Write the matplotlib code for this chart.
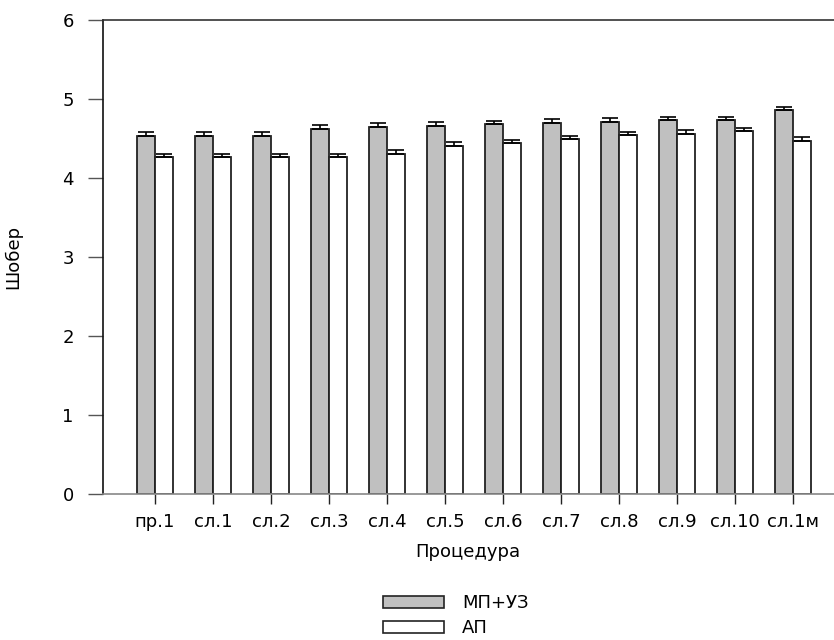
import matplotlib.pyplot as plt
import numpy as np
from matplotlib.patches import Patch

plt.rcParams['font.family'] = ['DejaVu Sans']

# data
procedures = ['пр.1', 'сл.1', 'сл.2', 'сл.3', 'сл.4', 'сл.5', 'сл.6',
              'сл.7', 'сл.8', 'сл.9', 'сл.10', 'сл.1м']
mp_uz = [4.53, 4.53, 4.53, 4.62, 4.65, 4.66, 4.68, 4.70, 4.71, 4.73, 4.73, 4.86]
mp_uz_err = [0.05, 0.05, 0.05, 0.05, 0.05, 0.05, 0.045, 0.045, 0.045, 0.045, 0.045, 0.045]
ap = [4.26, 4.26, 4.26, 4.26, 4.31, 4.40, 4.44, 4.49, 4.54, 4.56, 4.59, 4.47]
ap_err = [0.045, 0.045, 0.045, 0.045, 0.045, 0.05, 0.045, 0.045, 0.045, 0.045, 0.04, 0.045]
series_labels = ['МП+УЗ', 'АП']

W, H = 834, 640
fs = 13
fig = plt.figure(figsize=(W / 100, H / 100), dpi=100)
ax = fig.add_axes([103 / W, (H - 494) / H, (W - 103) / W, (494 - 20) / H])

x = np.arange(len(procedures))
bw = 0.31
ax.bar(x - bw / 2, mp_uz, bw, color='#c0c0c0', edgecolor='#222222', linewidth=1.3, zorder=2)
ax.bar(x + bw / 2, ap, bw, color='white', edgecolor='#222222', linewidth=1.3, zorder=2)
ax.errorbar(x - bw / 2, mp_uz, yerr=[np.zeros(len(x)), mp_uz_err], fmt='none',
            ecolor='black', elinewidth=1.2, capsize=5.5, capthick=1.2, zorder=3)
ax.errorbar(x + bw / 2, ap, yerr=[np.zeros(len(x)), ap_err], fmt='none',
            ecolor='black', elinewidth=1.2, capsize=5.5, capthick=1.2, zorder=3)

ax.set_xlim(-0.897, 11.707)
ax.set_ylim(0, 6)
ax.set_yticks(range(7))
ax.set_xticks(x)
ax.set_xticklabels(procedures, fontsize=fs)
ax.tick_params(axis='y', direction='out', length=11, width=1, color='#555555',
               labelsize=fs, pad=10)
ax.tick_params(axis='x', direction='out', length=7.5, width=1, color='#222222', pad=6)

ax.spines['right'].set_visible(False)
ax.spines['bottom'].set_color('#888888')
ax.spines['left'].set_color('#111111')
ax.spines['top'].set_color('#333333')
for s in ['left', 'top', 'bottom']:
    ax.spines[s].set_linewidth(1.2)

ax.set_xlabel('Процедура', fontsize=fs)
ax.set_ylabel('Шобер', fontsize=fs)
ax.xaxis.set_label_coords((468 - 103) / (W - 103), -(543 - 494) / (494 - 20))
ax.yaxis.set_label_coords(-(103 - 22) / (W - 103), 0.5)

handles = [Patch(facecolor='#c0c0c0', edgecolor='#222222', linewidth=1.2),
           Patch(facecolor='white', edgecolor='#222222', linewidth=1.2)]
fig.legend(handles, series_labels, loc='upper left', bbox_to_anchor=(383 / W, 1 - 594 / H),
           frameon=False, fontsize=fs, borderpad=0, borderaxespad=0,
           handlelength=61 / 18, handleheight=12 / 18,
           handletextpad=1.0, labelspacing=0.4)

fig.savefig('out.png', dpi=100)
